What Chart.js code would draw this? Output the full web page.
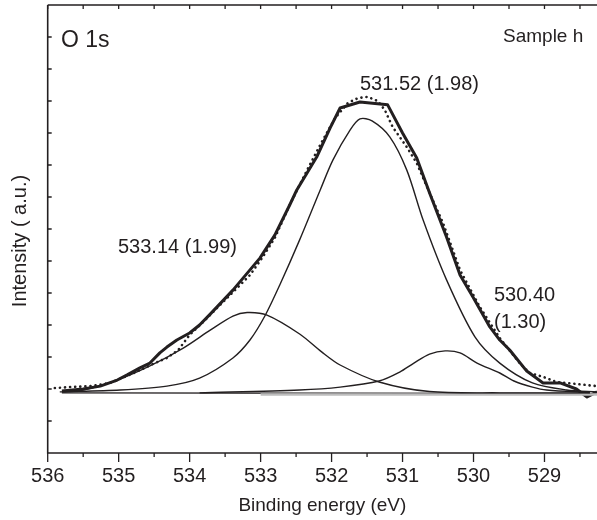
<!DOCTYPE html>
<html>
<head>
<meta charset="utf-8">
<title>O 1s - Sample h</title>
<script src="https://cdn.jsdelivr.net/npm/chart.js@4.4.1/dist/chart.umd.min.js"></script>
<style>
  html, body { margin: 0; padding: 0; background: #fff; overflow: hidden; }
  canvas { display: block; }
</style>
</head>
<body>
<canvas id="xpsChart" width="597" height="520"></canvas>
<script>
// O 1s, sample h : spectrum (dots), fit envelope (thick), 3 components, background

const ticksX = [529, 530, 531, 532, 533, 534, 535, 536];

// measured spectrum (dotted)
const expE = [535.90, 535.69, 535.40, 535.12, 534.88, 534.70, 534.49, 534.32, 534.16, 534.00, 533.78, 533.57, 533.36, 533.15, 532.98, 532.80, 532.59, 532.38, 532.16, 531.95, 531.77, 531.63, 531.49, 531.35, 531.25, 531.14, 530.94, 530.80, 530.62, 530.43, 530.19, 529.91, 529.63, 529.35, 529.21, 529.02, 528.83, 528.69, 528.26];
const expI = [2.03, 2.06, 2.09, 2.19, 2.41, 2.59, 2.81, 2.97, 3.22, 3.69, 4.16, 4.63, 5.09, 5.56, 6.09, 6.72, 7.75, 8.69, 9.63, 10.47, 10.94, 11.09, 11.13, 11.00, 10.72, 10.19, 9.56, 9.06, 8.13, 7.19, 5.72, 4.56, 3.59, 2.81, 2.50, 2.38, 2.22, 2.19, 2.09];

// fit envelope (thick)
const fitE = [535.80, 535.50, 535.26, 535.02, 534.88, 534.70, 534.56, 534.42, 534.32, 534.18, 534.00, 533.86, 533.71, 533.39, 533.01, 532.80, 532.59, 532.49, 532.21, 532.02, 531.88, 531.60, 531.21, 531.00, 530.80, 530.62, 530.38, 530.19, 530.01, 529.77, 529.63, 529.49, 529.25, 529.02, 528.78, 528.55, 528.40, 528.26];
const fitI = [1.94, 2.00, 2.09, 2.28, 2.44, 2.66, 2.81, 3.13, 3.31, 3.53, 3.75, 4.00, 4.34, 5.09, 6.09, 6.81, 7.75, 8.22, 9.25, 10.16, 10.78, 10.97, 10.88, 10.00, 9.22, 8.13, 6.75, 5.56, 4.88, 3.94, 3.53, 3.22, 2.56, 2.19, 2.19, 2.00, 1.75, 1.91];

// component 533.14 eV
const c1E = [535.80, 535.50, 535.02, 534.56, 534.09, 533.71, 533.39, 533.19, 532.91, 532.45, 532.14, 531.88, 531.33, 530.62, 529.63, 528.36];
const c1I = [1.91, 1.97, 2.28, 2.72, 3.28, 3.84, 4.28, 4.39, 4.31, 3.72, 3.16, 2.75, 2.22, 1.92, 1.88, 1.88];

// component 531.52 eV
const c2E = [535.83, 534.98, 534.32, 533.86, 533.39, 533.15, 532.94, 532.73, 532.45, 532.16, 531.98, 531.74, 531.60, 531.43, 531.18, 530.94, 530.71, 530.38, 529.98, 529.63, 529.17, 528.69, 528.26];
const c2I = [1.91, 1.97, 2.09, 2.34, 2.97, 3.53, 4.28, 5.25, 6.66, 8.22, 9.16, 10.09, 10.44, 10.38, 9.88, 8.84, 7.28, 5.41, 3.63, 2.81, 2.19, 1.97, 1.91];

// component 530.40 eV
const c3E = [533.86, 532.45, 531.88, 531.33, 531.04, 530.84, 530.62, 530.40, 530.19, 529.95, 529.63, 529.43, 529.17, 528.97, 528.36];
const c3I = [1.88, 1.97, 2.06, 2.25, 2.53, 2.81, 3.09, 3.19, 3.13, 2.81, 2.50, 2.25, 2.06, 1.97, 1.89];

// background lines
const bgE = [535.80, 528.30];
const bgI = [1.88, 1.86];
const greyE = [533.00, 528.26];
const greyI = [1.83, 1.83];

const FONT = '"Liberation Sans", Arial, Helvetica, sans-serif';
const INK = '#231f20';

function pts(xs, ys) {
    return xs.map((x, i) => ({ x: x, y: ys[i] }));
}

// frame, tick marks and text labels
const framePlugin = {
    id: 'frame',
    afterDraw(chart) {
        const ctx = chart.ctx;
        const a = chart.chartArea;
        const sx = chart.scales.x;
        const sy = chart.scales.y;
        ctx.save();
        ctx.strokeStyle = INK;
        ctx.lineWidth = 1.6;
        ctx.beginPath();
        ctx.moveTo(a.left, a.top);
        ctx.lineTo(a.left, a.bottom);
        ctx.lineTo(a.right, a.bottom);
        ctx.moveTo(a.left, a.top);
        ctx.lineTo(a.right, a.top);
        ctx.stroke();

        ctx.lineWidth = 1.3;
        ctx.beginPath();
        for (let v = 528.5; v <= 536; v += 0.5) {
            const px = sx.getPixelForValue(v);
            const major = Number.isInteger(v);
            ctx.moveTo(px, a.bottom);
            ctx.lineTo(px, a.bottom + (major ? 9 : 4));
            ctx.moveTo(px, a.top);
            ctx.lineTo(px, a.top + 4);
        }
        for (let v = 1; v < 14; v++) {
            const py = sy.getPixelForValue(v);
            ctx.moveTo(a.left, py);
            ctx.lineTo(a.left + 4, py);
        }
        ctx.stroke();

        ctx.fillStyle = INK;
        ctx.textAlign = 'left';
        ctx.textBaseline = 'alphabetic';
        ctx.font = '23px ' + FONT;
        ctx.fillText('O 1s', 61, 46.5);
        ctx.font = '19px ' + FONT;
        ctx.fillText('Sample h', 503, 41.5);
        ctx.font = '20px ' + FONT;
        ctx.fillText('531.52 (1.98)', 360, 90);
        ctx.fillText('533.14 (1.99)', 118, 253);
        ctx.fillText('530.40', 494, 301);
        ctx.fillText('(1.30)', 494, 328);

        // y axis title, sits a little below the axis centre
        ctx.translate(20, 241);
        ctx.rotate(-Math.PI / 2);
        ctx.textAlign = 'center';
        ctx.textBaseline = 'middle';
        ctx.fillText('Intensity ( a.u.)', 0, 0);
        ctx.restore();
    }
};

const thin = { borderColor: INK, borderWidth: 1.4, pointRadius: 0, fill: false, tension: 0.3 };

new Chart(document.getElementById('xpsChart'), {
    type: 'line',
    data: {
        datasets: [
            Object.assign({ label: '533.14', data: pts(c1E, c1I) }, thin),
            Object.assign({ label: '531.52', data: pts(c2E, c2I) }, thin),
            Object.assign({ label: '530.40', data: pts(c3E, c3I) }, thin),
            { label: 'grey', data: pts(greyE, greyI), borderColor: '#bdbdbd', borderWidth: 2.5, pointRadius: 0, tension: 0 },
            { label: 'background', data: pts(bgE, bgI), borderColor: INK, borderWidth: 1.4, pointRadius: 0, tension: 0 },
            { label: 'fit', data: pts(fitE, fitI), borderColor: INK, borderWidth: 3, pointRadius: 0, tension: 0, borderJoinStyle: 'round' },
            { label: 'data', data: pts(expE, expI), borderColor: INK, borderWidth: 2.6, pointRadius: 0, tension: 0, borderDash: [0.1, 5], borderCapStyle: 'round' }
        ]
    },
    options: {
        responsive: false,
        animation: false,
        devicePixelRatio: 1,
        layout: { padding: { top: 5, right: 0, bottom: 0, left: 0 } },
        plugins: {
            legend: { display: false },
            tooltip: { enabled: false }
        },
        scales: {
            x: {
                type: 'linear',
                reverse: true,
                min: 528.26,
                max: 536,
                afterBuildTicks: function (scale) {
                    scale.ticks = ticksX.map(v => ({ value: v }));
                },
                afterFit: function (scale) { scale.height = 67; },
                grid: { display: false, drawTicks: false },
                border: { display: false },
                ticks: {
                    autoSkip: false,
                    maxRotation: 0,
                    padding: 11,
                    color: INK,
                    font: { family: FONT, size: 20 },
                    callback: v => String(v)
                },
                title: {
                    display: true,
                    text: 'Binding energy (eV)',
                    color: INK,
                    font: { family: FONT, size: 19 },
                    padding: { top: 0, bottom: 3 }
                }
            },
            y: {
                min: 0,
                max: 14,
                afterFit: function (scale) { scale.width = 47.7; },
                grid: { display: false, drawTicks: false },
                border: { display: false },
                ticks: { display: false, stepSize: 1 },
                title: { display: false }
            }
        }
    },
    plugins: [framePlugin]
});
</script>
</body>
</html>
